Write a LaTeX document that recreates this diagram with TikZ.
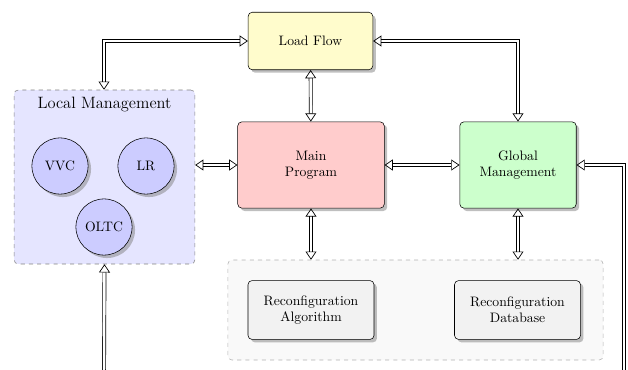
\documentclass[tikz,border=0pt]{standalone}
\usetikzlibrary{arrows.meta,shadows}
\tikzset{
  block/.style={draw, rounded corners=3pt, drop shadow, align=center, inner sep=2pt},
  agent/.style={draw, circle, minimum size=41pt, inner sep=0pt, fill=blue!20, drop shadow},
  group/.style={draw=gray, dashed, rounded corners=3pt},
  link/.style={double, double distance=1.8pt, line width=0.5pt, {Triangle[open,length=6pt,width=8pt]}-{Triangle[open,length=6pt,width=8pt]}},
  oneway/.style={double, double distance=1.8pt, line width=0.5pt, -{Triangle[open,length=6pt,width=8pt]}}
}
\begin{document}
\begin{tikzpicture}[x=0.73pt, y=-0.73pt]
\useasboundingbox (0,0) rectangle (628,369);
% groups
\node[group, fill=blue!10, minimum width=132pt, minimum height=127pt] (local) at (104.5,177) {};
\node[font=\large, below, yshift=-2pt] (localtitle) at (local.north) {Local Management};
\node[group, draw=gray!60, fill=gray!5, minimum width=274pt, minimum height=73pt] (reconf) at (415.5,310) {};
% main blocks
\node[block, fill=yellow!20, minimum width=91pt, minimum height=42pt] (load) at (310.5,41) {Load Flow};
\node[block, fill=red!20, minimum width=107pt, minimum height=63pt] (main) at (311,165) {Main\\Program};
\node[block, fill=green!20, minimum width=85pt, minimum height=63pt] (global) at (518,165) {Global\\Management};
\node[block, fill=gray!10, minimum width=92pt, minimum height=43pt] (algo) at (311,310) {Reconfiguration\\Algorithm};
\node[block, fill=gray!10, minimum width=92pt, minimum height=43pt] (base) at (517.5,310) {Reconfiguration\\Database};
% local agents
\node[agent] (vvc) at (60,166) {VVC};
\node[agent] (lr) at (146,166) {LR};
\node[agent] (oltc) at (104,227) {OLTC};
% connectors
\coordinate (gout) at (624,372);
\coordinate (lin) at (104,372);
\coordinate (lbend) at (104,41);
\draw[link] (load.west) -- (lbend) -- (lbend |- local.north);
\draw[link] (load.east) -| (global.north);
\draw[link] (load) -- (main);
\draw[link] (local.east |- main) -- (main.west);
\draw[link] (main) -- (global);
\draw[link] (main.south) -- (main.south |- reconf.north);
\draw[link] (global.south) -- (global.south |- reconf.north);
\draw[oneway] (gout) |- (global.east);
\draw[oneway] (lin) -- (local.south);
\end{tikzpicture}
\end{document}
